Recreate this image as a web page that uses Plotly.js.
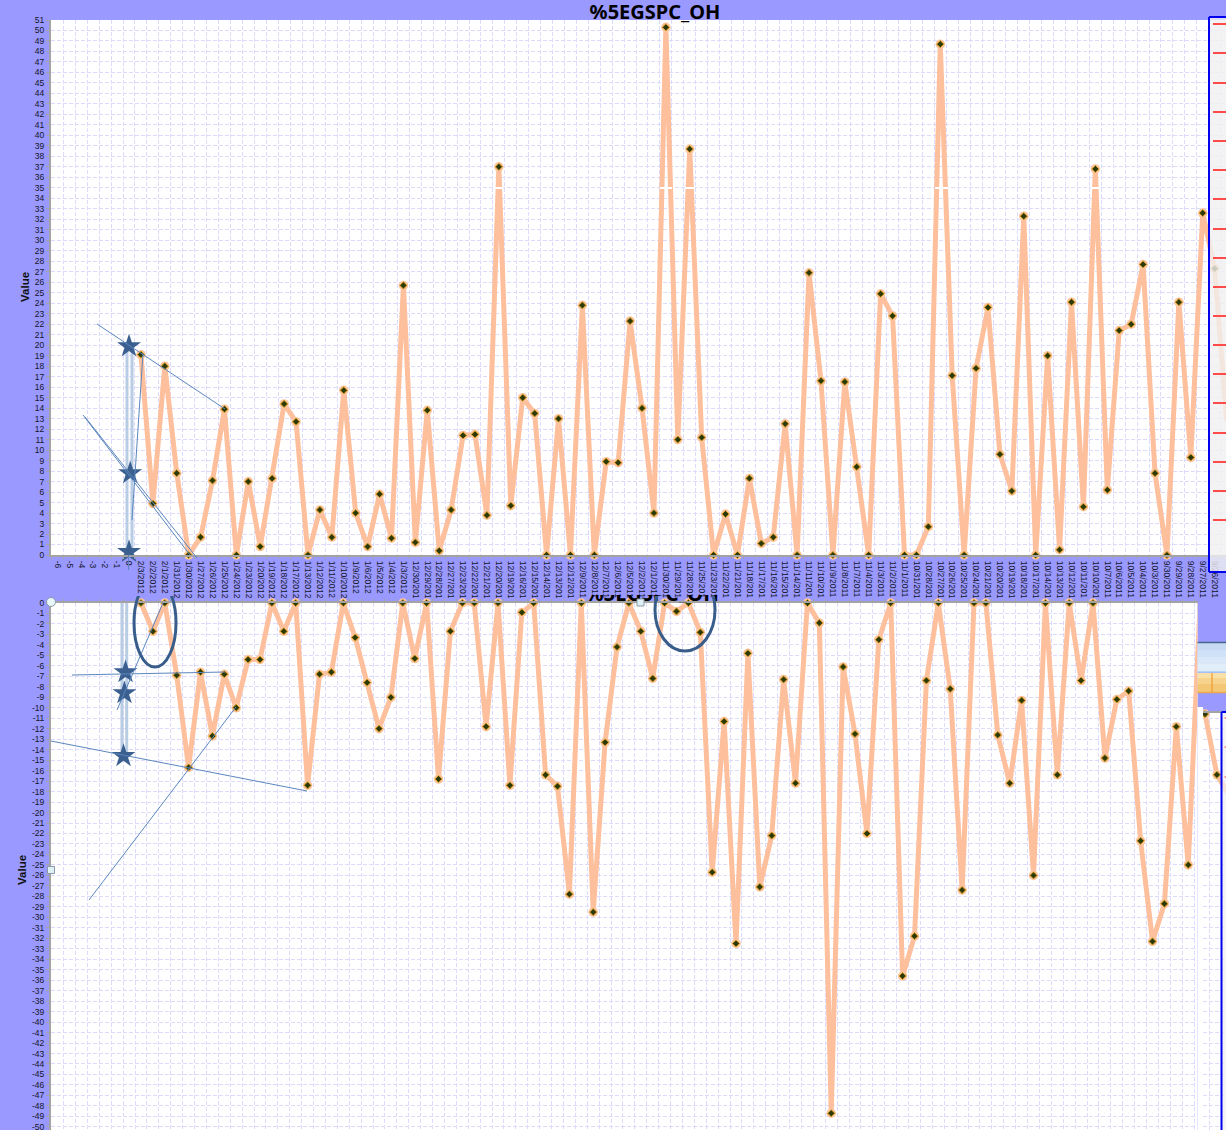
<!DOCTYPE html>
<html><head><meta charset="utf-8">
<script src="https://cdn.plot.ly/plotly-3.0.0.min.js"></script>
<style>html,body{margin:0;padding:0;background:#fff;overflow:hidden}#c{width:1226px;height:1135px}</style>
</head><body><div id="c"></div>
<script>
const axisSlots = ['-6','-5','-4','-3','-2','-1','0'];
const dates = ['2/3/2012','2/2/2012','2/1/2012','1/31/2012','1/30/2012','1/27/2012','1/26/2012','1/25/2012','1/24/2012','1/23/2012','1/20/2012','1/19/2012','1/18/2012','1/17/2012','1/13/2012','1/12/2012','1/11/2012','1/10/2012','1/9/2012','1/6/2012','1/5/2012','1/4/2012','1/3/2012',
'12/30/201','12/29/201','12/28/201','12/27/201','12/23/201','12/22/201','12/21/201','12/20/201','12/19/201','12/16/201','12/15/201','12/14/201','12/13/201','12/12/201','12/9/2011','12/8/2011','12/7/2011','12/6/2011','12/5/2011','12/2/2011','12/1/2011',
'11/30/201','11/29/201','11/28/201','11/25/201','11/23/201','11/22/201','11/21/201','11/18/201','11/17/201','11/16/201','11/15/201','11/14/201','11/11/201','11/10/201','11/9/2011','11/8/2011','11/7/2011','11/4/2011','11/3/2011','11/2/2011','11/1/2011',
'10/31/201','10/28/201','10/27/201','10/26/201','10/25/201','10/24/201','10/21/201','10/20/201','10/19/201','10/18/201','10/17/201','10/14/201','10/13/201','10/12/201','10/11/201','10/10/201','10/7/2011','10/6/2011','10/5/2011','10/4/2011','10/3/2011',
'9/30/2011','9/29/2011','9/28/2011','9/27/2011','9/26/2011','9/23/2011'];
const upper = [19.1,4.9,18,7.8,0,1.7,7.1,13.9,0,7,0.8,7.3,14.4,12.7,0,4.3,1.7,15.7,4,0.8,5.8,1.6,25.7,1.2,13.8,0.4,4.3,11.4,11.5,3.8,37,4.7,15,13.5,0,13,0,23.8,0,8.9,8.8,22.3,14,4,50.3,11,38.7,11.2,0,3.9,0,7.3,1.1,1.7,12.5,0,26.9,16.6,0,16.5,8.4,0,24.9,22.8,0,0,2.7,48.7,17.1,0,17.8,23.6,9.6,6.1,32.3,0,19,0.5,24.1,4.6,36.8,6.2,21.4,22,27.7,7.8,0,24.1,9.3,32.6,27.3,12.8];
const lower = [0,-2.7,0,-6.9,-15.7,-6.6,-12.7,-6.8,-10,-5.4,-5.4,0,-2.7,0,-17.4,-6.8,-6.6,0,-3.3,-7.6,-12,-9,0,-5.3,0,-16.8,-2.7,0,0,-11.8,0,-17.4,-0.9,0,-16.4,-17.5,-27.8,0,-29.5,-13.3,-4.2,0,-2.7,-7.2,0,-0.8,0,-2.8,-25.7,-11.3,-32.5,-4.8,-27.1,-22.2,-7.3,-17.2,0,-1.9,-48.7,-6.1,-12.5,-22,-3.5,0,-35.6,-31.8,-7.4,0,-8.2,-27.4,0,0,-12.6,-17.2,-9.3,-26,0,-16.4,0,-7.4,0,-14.8,-9.2,-8.4,-22.7,-32.3,-28.7,-11.8,-25,0];
const stripValues = [-10.6,-16.4,-18.3];
const stripIndex = [0,1,2];
const upperStarsX = [6.0,6.1,6.0], upperStarsY = [19.9,7.8,0.3];
const lowerStarsX = [5.70,5.61,5.53], lowerStarsY = [-6.6,-8.6,-14.6];
const titleText = '%5EGSPC_OH';

const W=1226,H=1135;
const px=x=>x/W, py=y=>1-y/H;
const cats=axisSlots.concat(dates);
const lineC='#fdbf9c', haloC='#fcc6a2', gridC='#dddbfb', axisC='#a3a3a3', starC='#3b6090', barC='#b8cce4', noteC='#5b86bd', titleFont='"Noto Sans", sans-serif';
const upperRange=[-0.54,97.95], lowerRange=[-0.563,95.78];

function lineTrace(x,y,xa,ya){return {x,y,xaxis:xa,yaxis:ya,type:'scatter',mode:'lines',line:{color:lineC,width:5,shape:'linear'},hoverinfo:'skip',cliponaxis:true};}
function dots(x,y,xa,ya){return [
 {x,y,xaxis:xa,yaxis:ya,type:'scatter',mode:'markers',marker:{symbol:'circle',size:9.5,color:haloC},hoverinfo:'skip',cliponaxis:false},
 {x,y,xaxis:xa,yaxis:ya,type:'scatter',mode:'markers',marker:{symbol:'diamond',size:5.5,color:'#2c3a08',line:{color:'#d89a1c',width:1}},hoverinfo:'skip',cliponaxis:false}];}
function bar(x,y,xa,ya){return {x,y,xaxis:xa,yaxis:ya,type:'scatter',mode:'lines',line:{color:barC,width:3},hoverinfo:'skip'};}
function stars(x,y,xa,ya){return {x,y,xaxis:xa,yaxis:ya,type:'scatter',mode:'markers',marker:{symbol:'star',size:18,color:starC,line:{width:0}},hoverinfo:'skip',cliponaxis:false};}

const data=[
 lineTrace(dates,upper,'x','y'), ...dots(dates,upper,'x','y'),
 lineTrace(dates,lower,'x2','y2'), ...dots(dates.slice(0,lower.length-1),lower.slice(0,-1),'x2','y2'),
 bar([5.83,5.83],[0.4,19.9],'x6','y'), bar([6.25,6.25],[0.4,19.9],'x6','y'), stars(upperStarsX,upperStarsY,'x6','y'),
 bar([5.40,5.40],[0,-14.6],'x4','y2'), bar([5.80,5.80],[0,-14.6],'x4','y2'), stars(lowerStarsX,lowerStarsY,'x4','y2'),
 lineTrace(stripIndex,stripValues,'x5','y5'), ...dots(stripIndex,stripValues,'x5','y5'),
 {x:[652],y:[596],xaxis:'x3',yaxis:'y3',type:'scatter',mode:'text',text:[titleText],textposition:'middle center',textfont:{family:titleFont,size:20.5,color:'#000',weight:700},hoverinfo:'skip',cliponaxis:true},
 {x:[0],y:[1130],xaxis:'x7',yaxis:'y7',type:'scatter',mode:'markers',marker:{size:1,opacity:0},hoverinfo:'skip'}
];

const upperTicks=[];for(let v=0;v<=51;v++)upperTicks.push(v);
const lowerTicks=[];for(let v=0;v>=-50;v--)lowerTicks.push(v);
const tickFont={family:'"Liberation Sans", sans-serif',size:8.5,color:'#15152a'};
const gridDash='4px,2px';
function catAxis(extra){return Object.assign({type:'category',categoryorder:'array',categoryarray:cats,tickmode:'linear',tick0:0,dtick:1,tickson:'boundaries',showgrid:true,gridcolor:gridC,griddash:gridDash,gridwidth:1,showline:true,linecolor:axisC,linewidth:2,zeroline:false,ticks:'outside',ticklen:2,tickcolor:axisC,tickfont:tickFont,tickangle:90,ticklabelstandoff:2,fixedrange:true},extra);}
function valAxis(vals,extra){return Object.assign({tickmode:'array',tickvals:vals,ticktext:vals.map(String),showgrid:true,gridcolor:gridC,griddash:gridDash,gridwidth:1,showline:true,linecolor:axisC,linewidth:2,zeroline:false,ticks:'outside',ticklen:3,tickcolor:axisC,tickfont:tickFont,fixedrange:true,automargin:false},extra);}
function ghost(extra){return Object.assign({visible:false,fixedrange:true},extra);}

const under=[], rects=[], lines=[];
function plate(x0,y0,x1,y1){under.push({type:'rect',layer:'below',xref:'paper',yref:'paper',x0:px(x0),x1:px(x1),y0:py(y0),y1:py(y1),fillcolor:'#ffffff',line:{width:0}});}
plate(51,20,1226,555);plate(51,603,1197.5,1130);plate(1203,713,1226,1130);
function R(x0,y0,x1,y1,fill,lw,lc){rects.push({type:'rect',xref:'paper',yref:'paper',x0:px(x0),x1:px(x1),y0:py(y0),y1:py(y1),fillcolor:fill,line:{width:lw||0,color:lc||fill}});}
function L(x0,y0,x1,y1,c,w){lines.push({type:'line',xref:'paper',yref:'paper',x0:px(x0),x1:px(x1),y0:py(y0),y1:py(y1),line:{color:c,width:w}});}

// white breaks on the tall peaks
[[495,503],[660,672],[685,695],[935,948],[1091,1099]].forEach(s=>L(s[0],188,s[1],188,'#ffffff',2));
// upper right side panel
R(1209,17,1228,572,'rgba(240,240,240,0.8)',0);
[24,53,83,112,141,170,199,229,258,287,316,345,374,403,433,462,491,520].forEach(y=>L(1213,y,1228,y,'#ff4a4a',2));
L(1209,17,1209,572,'#0000ee',2);L(1209,17,1228,17,'#0000ee',2);L(1209,572,1228,572,'#0000ee',2);
// window fragment right of lower plot
[['#c6dbf3',643,650],['#cfe1f6',650,657],['#d9e7f8',657,664],['#e2edfa',664,672]].forEach(b=>R(1197.5,b[1],1228,b[2],b[0]));
L(1197.5,642.5,1228,642.5,'#47688c',1.5);L(1197.5,672,1228,672,'#a9cdf3',1.5);
[['#f9e0a8',673,678],['#f6d48e',678,684],['#f3c775',684,692]].forEach(b=>R(1197.5,b[1],1228,b[2],b[0]));
L(1197.5,692.5,1228,692.5,'#eea94a',1.5);L(1212,673,1212,692,'#f09a30',1.2);
// gap and lower right side panel
R(1197.5,707,1203,1130,'#ffffff');
R(1221.5,712,1228,1130,'rgba(240,240,240,0.75)');
L(1221.5,712,1221.5,1130,'#0000ee',2);L(1221.5,712,1228,712,'#0000ee',2);
[718,747,777].forEach(y=>L(1224.5,y,1228,y,'#ff8080',1.5));
// drawn notes, upper
[[97,324,225,409],[83,415,190,555],[85,417,197,558],[132,520,143,353],[128.6,555,128.6,570]].forEach(s=>L(s[0],s[1],s[2],s[3],noteC,1));
// drawn notes, lower
[[72,675,225,672],[51,741,307,791],[89,900,236,707],[117,710,163,603]].forEach(s=>L(s[0],s[1],s[2],s[3],noteC,1));
// clipped ellipses
const ell=[[134,579,176,667],[655,569,715,651]].map(e=>({type:'circle',xref:'x7',yref:'y7',x0:e[0],x1:e[2],y0:e[1],y1:e[3],line:{color:'#385d8a',width:3},fillcolor:'rgba(0,0,0,0)'}));
// selection handles
const handles=[
 {type:'circle',xref:'paper',yref:'paper',x0:px(46.5),x1:px(55.5),y0:py(597.5),y1:py(606.5),fillcolor:'#e9f7fa',line:{color:'#8a9aa5',width:1}},
 {type:'rect',xref:'paper',yref:'paper',x0:px(637),x1:px(644),y0:py(599),y1:py(606),fillcolor:'#dff1f7',line:{color:'#8a9aa5',width:1}},
 {type:'rect',xref:'paper',yref:'paper',x0:px(47.5),x1:px(54.5),y0:py(866.5),y1:py(873.5),fillcolor:'#dff1f7',line:{color:'#8a9aa5',width:1}}
];
// white strip under the captured picture
const foot=[{type:'rect',xref:'paper',yref:'paper',x0:0,x1:1,y0:0,y1:py(1130),fillcolor:'#ffffff',line:{width:0}}];

const layout={
 width:W,height:H,autosize:false,margin:{l:0,r:0,t:0,b:0,pad:0},paper_bgcolor:'#9999ff',plot_bgcolor:'rgba(0,0,0,0)',showlegend:false,hovermode:false,
 title:{text:titleText,x:655/W,xanchor:'center',y:py(12),yanchor:'middle',font:{family:titleFont,size:20,color:'#000',weight:700}},
 xaxis:catAxis({domain:[px(51),1],range:upperRange,anchor:'y'}),
 yaxis:valAxis(upperTicks,{domain:[py(555),py(20)],range:[0,51],anchor:'x'}),
 xaxis2:catAxis({domain:[px(51),px(1197.5)],range:lowerRange,anchor:'y2',side:'top',showticklabels:false}),
 yaxis2:valAxis(lowerTicks,{domain:[py(1130),py(603)],range:[-50.3,0],anchor:'x2'}),
 xaxis4:ghost({domain:[px(51),px(1197.5)],range:lowerRange,overlaying:'x2',anchor:'y2'}),
 xaxis6:ghost({domain:[px(51),1],range:upperRange,overlaying:'x',anchor:'y'}),
 xaxis5:{domain:[px(1203),1],range:[-0.168,1.76],anchor:'y5',tick0:0.36,dtick:1,showgrid:true,gridcolor:gridC,griddash:gridDash,showline:true,linecolor:axisC,linewidth:2,side:'top',showticklabels:false,zeroline:false,fixedrange:true},
 yaxis5:{domain:[py(1130),py(713)],range:[-50.3,-10.5],anchor:'x5',dtick:1,showgrid:true,gridcolor:gridC,griddash:gridDash,showline:false,showticklabels:false,zeroline:false,fixedrange:true},
 xaxis3:ghost({domain:[0,1],range:[0,W],anchor:'y3'}),
 yaxis3:ghost({domain:[py(603),py(595)],range:[603,595],anchor:'x3'}),
 xaxis7:ghost({domain:[0,1],range:[0,W],anchor:'y7'}),
 yaxis7:ghost({domain:[py(1130),py(596)],range:[1130,596],anchor:'x7'}),
 shapes:[...under,...rects,...lines,...ell,...handles,...foot],
 annotations:[
  {text:'<b>Value</b>',xref:'paper',yref:'paper',x:px(25),y:py(287),textangle:-90,showarrow:false,xanchor:'center',yanchor:'middle',font:{family:'"Liberation Sans", sans-serif',size:11.5,color:'#111'}},
  {text:'<b>Value</b>',xref:'paper',yref:'paper',x:px(22),y:py(870),textangle:-90,showarrow:false,xanchor:'center',yanchor:'middle',font:{family:'"Liberation Sans", sans-serif',size:11.5,color:'#111'}}
 ]
};
Plotly.newPlot('c',data,layout,{displayModeBar:false,staticPlot:true});
</script></body></html>
